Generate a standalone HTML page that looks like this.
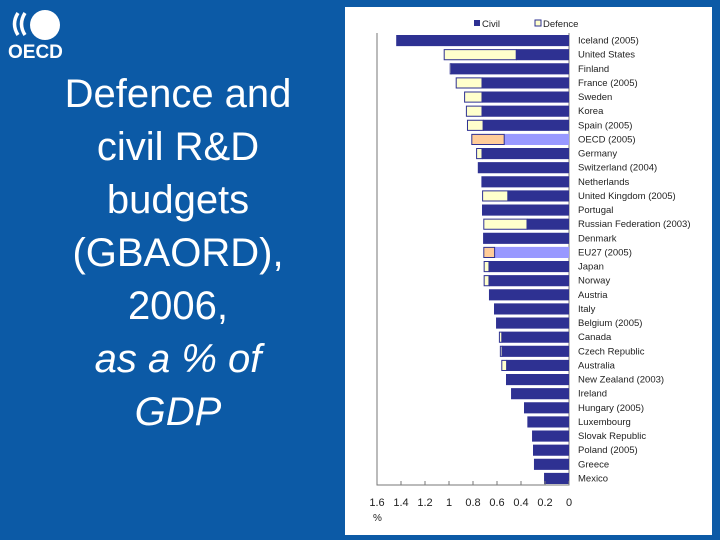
<!DOCTYPE html>
<html><head><meta charset="utf-8"><style>
body{margin:0;width:720px;height:540px;background:#0c5aa6;position:relative;overflow:hidden;font-family:"Liberation Sans",sans-serif}
#title{position:absolute;left:28px;top:68px;width:300px;text-align:center;color:#fff;font-size:40px;line-height:53px}
#panel{position:absolute;left:345px;top:7px;width:367px;height:528px;background:#fff}
</style></head><body>
<svg style="position:absolute;left:0;top:0" width="80" height="70">
<path d="M18 13 Q11 24 18 35 M25 13 Q18 24 25 35" stroke="#fff" stroke-width="3.5" fill="none"/>
<circle cx="45" cy="25" r="15" fill="#fff"/>
<text x="8" y="58" fill="#fff" font-size="19" font-weight="bold" font-family="Liberation Sans">OECD</text>
</svg>
<div id="title">Defence and<br>civil R&amp;D<br>budgets<br>(GBAORD),<br>2006,<br><i>as a % of<br>GDP</i></div>
<div id="panel">
<svg id="chart" width="367" height="528"></svg>
</div>
<script>
const countries=["Iceland (2005)","United States","Finland","France (2005)","Sweden","Korea","Spain (2005)","OECD (2005)","Germany","Switzerland (2004)","Netherlands","United Kingdom (2005)","Portugal","Russian Federation (2003)","Denmark","EU27 (2005)","Japan","Norway","Austria","Italy","Belgium (2005)","Canada","Czech Republic","Australia","New Zealand (2003)","Ireland","Hungary (2005)","Luxembourg","Slovak Republic","Poland (2005)","Greece","Mexico"];
const civil=[1.44,0.44,0.98,0.725,0.725,0.725,0.716,0.54,0.725,0.76,0.73,0.51,0.725,0.35,0.716,0.62,0.667,0.667,0.667,0.625,0.608,0.56,0.558,0.52,0.525,0.483,0.375,0.347,0.308,0.30,0.292,0.208];
const defence=[0,0.60,0.01,0.215,0.145,0.13,0.13,0.27,0.045,0,0,0.21,0,0.36,0,0.09,0.04,0.04,0,0,0,0.02,0.014,0.04,0,0,0,0,0,0,0,0];
const ticks=[1.6,1.4,1.2,1,0.8,0.6,0.4,0.2,0];
const ns="http://www.w3.org/2000/svg";
const svg=document.getElementById('chart');
const X0=224,PX=120,TOP=26,BOT=478;
const bandH=(BOT-TOP)/countries.length;
function x(v){return X0-v*PX;}
function y(i){return TOP+i*bandH;}
function mk(t,a){const e=document.createElementNS(ns,t);for(const k in a)e.setAttribute(k,a[k]);svg.appendChild(e);return e;}
let ax=mk('path',{d:`M${x(1.6)} ${TOP}V${BOT}H${X0}V${TOP}`,stroke:'#777',fill:'none','stroke-width':1});

countries.forEach((c,i)=>{
 const hl=c.startsWith('OECD')||c.startsWith('EU27');
 const yy=y(i)+2, h=bandH-3;
 let r=mk('rect',{x:x(civil[i]),y:yy,width:civil[i]*PX,height:h,fill:hl?'#9999ff':'#2e3192'});
 
 if(defence[i]>0){
  let d=mk('rect',{x:x(civil[i]+defence[i]),y:yy+0.5,width:defence[i]*PX,height:h-1,fill:hl?'#ffcc99':'#ffffcc',stroke:'#2e3192','stroke-width':1});
  
 }
 let t=mk('text',{x:X0+9,y:y(i)+bandH/2+3.5,'font-size':9.5,fill:'#222'});t.textContent=c;
 
});
ticks.forEach(v=>{
 let l=mk('line',{x1:x(v),x2:x(v),y1:BOT,y2:BOT-4,stroke:'#777'});
 
 let t=mk('text',{x:x(v),y:BOT+21,'font-size':11,'text-anchor':'middle',fill:'#222'});t.textContent=v;
 
});
let u=mk('text',{x:x(1.6)-4,y:BOT+36,'font-size':10,fill:'#222'});u.textContent='%';

let l1=mk('rect',{x:129,y:13,width:6,height:6,fill:'#2e3192'});

let t1=mk('text',{x:137,y:20,'font-size':9.5,fill:'#222'});t1.textContent='Civil';

let l2=mk('rect',{x:190,y:13,width:6,height:6,fill:'#ffffcc',stroke:'#2e3192'});

let t2=mk('text',{x:198,y:20,'font-size':9.5,fill:'#222'});t2.textContent='Defence';

</script>
</body></html>
